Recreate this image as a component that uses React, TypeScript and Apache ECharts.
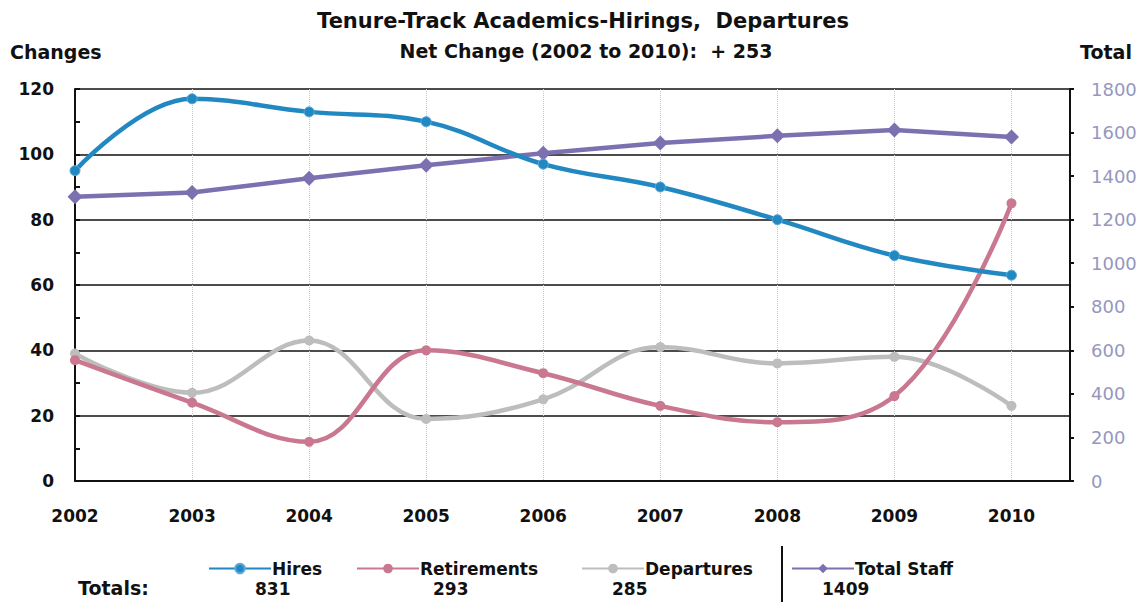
import React, { useEffect, useRef } from "react";
import * as echarts from "echarts";

const years = [2002, 2003, 2004, 2005, 2006, 2007, 2008, 2009, 2010];
const hires = [95, 117, 113, 110, 97, 90, 80, 69, 63];
const retirements = [37, 24, 12, 40, 33, 23, 18, 26, 85];
const departures = [39, 27, 43, 19, 25, 41, 36, 38, 23];
const totalStaff = [1305, 1325, 1390, 1450, 1505, 1552, 1585, 1612, 1580];
const totals = ["831", "293", "285", "1409"];
const titleLines = ["Tenure-Track Academics-Hirings,  Departures", "Net Change (2002 to 2010):  + 253"];

const FONT = "'DejaVu Sans', Verdana, sans-serif";

export default function App() {
  const ref = useRef<HTMLDivElement>(null);
  useEffect(() => {
    if (!ref.current) return;
    const chart = echarts.init(ref.current, null, { renderer: "svg" });
    const pairs = (arr: number[]) => years.map((y, i) => [y, arr[i]]);
    const legendText = { fontFamily: FONT, fontSize: 17, fontWeight: "bold", color: "#111" };
    const mkLegend = (name: string, left: number) => ({
      data: [name],
      left,
      top: 560,
      itemWidth: 62,
      itemHeight: 12,
      itemGap: 0,
      padding: 0,
      textStyle: { ...legendText, padding: [0, 0, 0, -4] },
    });
    const totalFont = `bold 17px ${FONT}`;
    chart.setOption({
      animation: false,
      backgroundColor: "#fff",
      textStyle: { fontFamily: FONT },
      grid: { left: 75, right: 78, top: 89, bottom: 122 },
      title: [
        {
          text: titleLines[0],
          left: 578,
          textAlign: "center",
          top: 5,
          textStyle: { fontFamily: FONT, fontSize: 21, fontWeight: "bold", color: "#111" },
        },
        {
          text: titleLines[1],
          left: 581,
          textAlign: "center",
          top: 36,
          textStyle: { fontFamily: FONT, fontSize: 19, fontWeight: "bold", color: "#111" },
        },
      ],
      legend: [
        mkLegend("Hires", 208),
        mkLegend("Retirements", 356),
        mkLegend("Departures", 581),
        mkLegend("Total Staff", 791),
      ],
      xAxis: {
        type: "value",
        min: 2002,
        max: 2010.5,
        interval: 1,
        axisLine: { show: true, lineStyle: { color: "#111", width: 2 } },
        axisTick: { show: false },
        axisLabel: {
          formatter: (v: number) => (Number.isInteger(v) ? String(v) : ""),
          fontFamily: FONT,
          fontSize: 17,
          fontWeight: "bold",
          color: "#111",
          margin: 26,
          showMaxLabel: false,
        },
        splitLine: { show: true, lineStyle: { color: "#a9d0ee", type: "dotted", width: 1 } },
      },
      yAxis: [
        {
          type: "value",
          min: 0,
          max: 120,
          interval: 20,
          name: "Changes",
          nameLocation: "end",
          nameGap: 28,
          nameTextStyle: { fontFamily: FONT, fontSize: 19, fontWeight: "bold", color: "#111", align: "left", padding: [0, 0, 0, -65] },
          axisLine: { show: true, lineStyle: { color: "#111", width: 2 } },
          axisTick: { show: true, inside: true, length: 5, lineStyle: { color: "#111", width: 2 } },
          minorTick: { show: true, splitNumber: 2, length: 5, lineStyle: { color: "#111", width: 2 } },
          axisLabel: { fontFamily: FONT, fontSize: 17, fontWeight: "bold", color: "#111", margin: 21 },
          splitLine: { show: true, lineStyle: { color: "#111", width: 1.5 } },
        },
        {
          type: "value",
          min: 0,
          max: 1800,
          interval: 200,
          position: "right",
          name: "Total",
          nameLocation: "end",
          nameGap: 28,
          nameTextStyle: { fontFamily: FONT, fontSize: 19, fontWeight: "bold", color: "#111", align: "left", padding: [0, 0, 0, 10] },
          axisLine: { show: true, lineStyle: { color: "#111", width: 2 } },
          axisTick: { show: true, inside: false, length: 4, lineStyle: { color: "#111", width: 2 } },
          axisLabel: { fontFamily: FONT, fontSize: 18, color: "#9597bf", margin: 21, formatter: (v: number) => String(v) },
          splitLine: { show: false },
        },
      ],
      series: [
        {
          name: "Hires",
          type: "line",
          data: pairs(hires),
          smooth: 0.4,
          symbol: "circle",
          symbolSize: 10,
          lineStyle: { color: "#2288c2", width: 4.5 },
          itemStyle: { color: "#2288c2", borderColor: "#5aa9d8", borderWidth: 1 },
          z: 4,
        },
        {
          name: "Retirements",
          type: "line",
          data: pairs(retirements),
          smooth: 0.4,
          symbol: "circle",
          symbolSize: 10,
          lineStyle: { color: "#c97890", width: 4.5 },
          itemStyle: { color: "#c97890" },
          z: 3,
        },
        {
          name: "Departures",
          type: "line",
          data: pairs(departures),
          smooth: 0.4,
          symbol: "circle",
          symbolSize: 10,
          lineStyle: { color: "#bdbdbd", width: 4.5 },
          itemStyle: { color: "#bdbdbd" },
          z: 2,
        },
        {
          name: "Total Staff",
          type: "line",
          yAxisIndex: 1,
          data: pairs(totalStaff),
          symbol: "diamond",
          symbolSize: 15,
          lineStyle: { color: "#7d70b0", width: 4.5 },
          itemStyle: { color: "#7d70b0" },
          z: 3,
        },
      ],
      graphic: [
        { type: "line", shape: { x1: 782, y1: 546, x2: 782, y2: 602 }, style: { stroke: "#111", lineWidth: 2 } },
        { type: "text", left: 78, top: 578, style: { text: "Totals:", font: `bold 19px ${FONT}`, fill: "#111" } },
        { type: "text", left: 255, top: 580, style: { text: totals[0], font: totalFont, fill: "#111" } },
        { type: "text", left: 433, top: 580, style: { text: totals[1], font: totalFont, fill: "#111" } },
        { type: "text", left: 612, top: 580, style: { text: totals[2], font: totalFont, fill: "#111" } },
        { type: "text", left: 822, top: 580, style: { text: totals[3], font: totalFont, fill: "#111" } },
      ],
    });
    return () => chart.dispose();
  }, []);
  return <div ref={ref} style={{ width: 1148, height: 603, position: "absolute", left: 0, top: 0 }} />;
}
